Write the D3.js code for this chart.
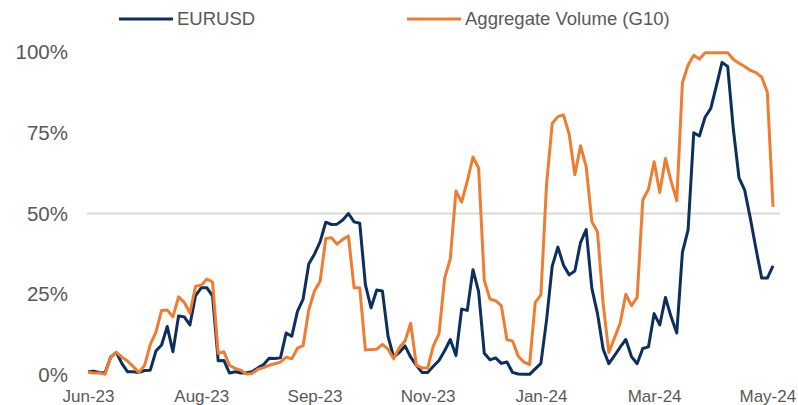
<!DOCTYPE html>
<html>
<head>
<meta charset="utf-8">
<script src="https://cdn.jsdelivr.net/npm/d3@7"></script>
<style>
  html, body { margin: 0; padding: 0; background: #ffffff; }
  svg { display: block; }
</style>
</head>
<body>
<svg id="chart" width="798" height="405"></svg>
<script>
// ---- Data (every second business day, Jun-23 .. May-24) ----
const tickLabels = ["Jun-23", "Aug-23", "Sep-23", "Nov-23", "Jan-24", "Mar-24", "May-24"];
const tickEvery = 20; // one label every 20 observations
const yTicks = [0, 25, 50, 75, 100];
const seriesNames = ["EURUSD", "Aggregate Volume (G10)"];

const eurusd = [
  1, 1.2, 0.8, 0.6, 5.5, 7, 3.5, 1, 1, 0.8,
  1.4, 1.5, 7.4, 9.3, 15, 7.2, 18.3, 18, 15.5, 24.6,
  27, 27, 24.5, 4.4, 4.5, 0.6, 1, 0.6, 0.7, 1,
  2.2, 3.2, 5.2, 5.1, 5.3, 13, 12, 19.7, 23.5, 34.4,
  37.4, 41.2, 47.3, 46.6, 46.7, 48, 50, 47.4, 47, 28,
  20.8, 26.3, 26, 12, 5.5, 7, 9, 5.5, 3, 0.8,
  0.8, 2.7, 4.5, 7.5, 11, 6, 20.4, 20, 32.6, 25.8,
  6.7, 4.7, 5.3, 3.6, 4, 0.8, 0.3, 0.2, 0.2, 1.9,
  3.6, 17, 33.7, 39.6, 34, 31, 32.2, 41, 45, 26.8,
  19, 8, 3.5, 6, 8.6, 11, 5.7, 3.5, 8.2, 8.7,
  19, 15.5, 24, 18, 13, 38, 44.9, 75, 74, 79.8,
  82.5, 89.5, 96.8, 95.5, 76, 61, 57.2, 48.5, 39, 30,
  30, 33.8
];

const aggVolume = [
  0.9, 0.6, 0.6, 0.2, 5.5, 7, 5.5, 4.3, 2.6, 0.8,
  3, 9.5, 13.3, 20, 20.1, 18, 24.2, 22.5, 19.2, 27.5,
  27.8, 29.7, 28.8, 6.7, 7.2, 3, 2, 1.5, 0.3, 0.5,
  1.8, 2.3, 3, 3.5, 4, 5.5, 5, 8.3, 9.1, 20.2,
  26, 29, 42.3, 42.5, 40.5, 42, 43, 27, 27, 7.7,
  7.9, 8, 9.5, 8, 5, 8.5, 10.5, 16, 3, 2.2,
  2.2, 9, 12.7, 30, 36, 57, 53.5, 60, 67.5, 64,
  29.3, 23.5, 23, 21.5, 11, 10.5, 5.8, 4, 3.2, 22.5,
  24.8, 59, 77.9, 80, 80.5, 74.5, 62, 71, 64.5, 47.5,
  44.3, 22, 7, 11.5, 16, 25, 21.5, 24, 54.2, 57.5,
  66, 56.5, 67, 60, 54, 90.5, 96, 99, 97.8, 99.8,
  99.8, 99.8, 99.8, 99.8, 97.7, 96.5, 95.5, 94.3, 93.6, 92.2,
  87.5, 52.1
];

// ---- Layout ----
const svg = d3.select("#chart");
const textColor = "#595959";
const navy = "#0d2f5e";
const orange = "#ee7d31";
const font = "Liberation Sans, Arial, sans-serif";

const n = eurusd.length;
const x = d3.scaleLinear().domain([0, n - 1]).range([88, 773]);
const y = d3.scaleLinear().domain([0, 100]).range([375, 52]);

// gridline at 50%
svg.append("g")
  .selectAll("line")
  .data([50])
  .join("line")
  .attr("x1", 87).attr("x2", 780)
  .attr("y1", d => y(d)).attr("y2", d => y(d))
  .attr("stroke", "#d9d9d9")
  .attr("stroke-width", 2);

// y axis
const yAxis = svg.append("g")
  .attr("transform", "translate(68,0)")
  .call(d3.axisLeft(y).tickValues(yTicks).tickSize(0).tickPadding(0).tickFormat(d => d + "%"));
yAxis.select(".domain").remove();
yAxis.selectAll("text")
  .attr("font-family", font)
  .attr("font-size", 20.5)
  .attr("fill", textColor);

// x axis
const xTickVals = tickLabels.map((_, i) => i * tickEvery);
const xAxis = svg.append("g")
  .attr("transform", "translate(0,388)")
  .call(d3.axisBottom(x).tickValues(xTickVals).tickSize(0).tickPadding(0)
    .tickFormat((d, i) => tickLabels[i]));
xAxis.select(".domain").remove();
xAxis.selectAll("text")
  .attr("font-family", font)
  .attr("font-size", 17)
  .attr("fill", textColor)
  .attr("dy", "0.8em");

// lines
const line = d3.line()
  .x((d, i) => x(i))
  .y(d => y(d));

svg.append("path")
  .datum(eurusd)
  .attr("fill", "none")
  .attr("stroke", navy)
  .attr("stroke-width", 3)
  .attr("stroke-linejoin", "round")
  .attr("d", line);

svg.append("path")
  .datum(aggVolume)
  .attr("fill", "none")
  .attr("stroke", orange)
  .attr("stroke-width", 3)
  .attr("stroke-linejoin", "round")
  .attr("d", line);

// legend
const legend = [
  { name: seriesNames[0], color: navy, x: 119 },
  { name: seriesNames[1], color: orange, x: 407 }
];
const lg = svg.append("g");
legend.forEach(l => {
  lg.append("line")
    .attr("x1", l.x).attr("x2", l.x + 54)
    .attr("y1", 19).attr("y2", 19)
    .attr("stroke", l.color)
    .attr("stroke-width", 3);
  lg.append("text")
    .attr("x", l.x + 58)
    .attr("y", 19)
    .attr("dy", "0.35em")
    .attr("font-family", font)
    .attr("font-size", 18.5)
    .attr("fill", textColor)
    .text(l.name);
});
</script>
</body>
</html>
